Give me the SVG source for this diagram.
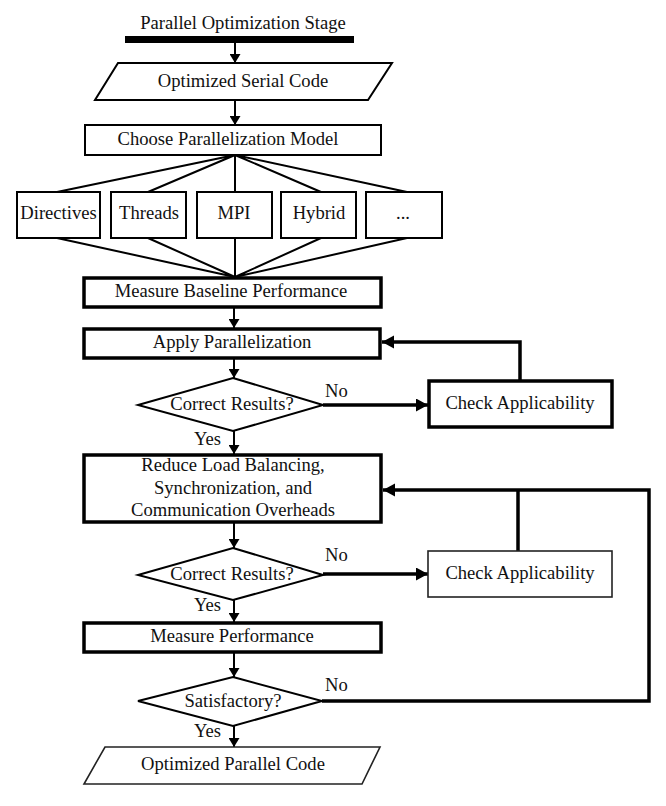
<svg xmlns="http://www.w3.org/2000/svg" width="666" height="806" viewBox="0 0 666 806">
  <style>
    text { font-family: "Liberation Serif", "Times New Roman", serif; font-size: 18.6px; fill: #111; }
    .c { text-anchor: middle; }
    .box { fill: #fff; stroke: #000; stroke-width: 2; }
    .bold { fill: #fff; stroke: #000; stroke-width: 3.5; }
    .thin { fill: #fff; stroke: #222; stroke-width: 1.6; }
    .ln { fill: none; stroke: #000; stroke-width: 2; }
    .thk { fill: none; stroke: #000; stroke-width: 3.5; }
  </style>
  <defs>
    <marker id="ah" markerUnits="userSpaceOnUse" markerWidth="10" markerHeight="11" refX="9" refY="5.5" orient="auto">
      <path d="M0,0 L9,5.5 L0,11 z" fill="#000"/>
    </marker>
    <marker id="ahb" markerUnits="userSpaceOnUse" markerWidth="13" markerHeight="14" refX="12" refY="6.5" orient="auto">
      <path d="M0,0 L12,6.5 L0,13 z" fill="#000"/>
    </marker>
  </defs>
  <rect width="666" height="806" fill="#fff"/>

  <!-- connectors -->
  <g id="connectors">
    <path class="ln" d="M235,43 V63" marker-end="url(#ah)"/>
    <path class="ln" d="M235,100 V125" marker-end="url(#ah)"/>
    <!-- fan out to the models -->
    <path class="ln" d="M235,155 L57,192 M235,155 L148,192 M235,155 V192 M235,155 L321,192 M235,155 L407,192"/>
    <!-- fan in to the baseline measurement -->
    <path class="ln" d="M57,238 L235,277 M148,238 L235,277 M235,238 V277 M321,238 L235,277 M407,238 L235,277"/>
    <path class="ln" d="M234,307 V328" marker-end="url(#ah)"/>
    <path class="ln" d="M234,358 V378" marker-end="url(#ah)"/>
    <path class="thk" d="M323,405 H428" marker-end="url(#ahb)"/>
    <path class="thk" d="M520,381 V342 H382" marker-end="url(#ahb)"/>
    <path class="ln" d="M234,431 V454" marker-end="url(#ah)"/>
    <path class="ln" d="M234,523 V548" marker-end="url(#ah)"/>
    <path class="thk" d="M323,574 H428" marker-end="url(#ahb)"/>
    <path class="thk" d="M518,551 V490"/>
    <path class="thk" d="M322,701 H649 V490 H383" marker-end="url(#ahb)"/>
    <path class="ln" d="M234,600 V622" marker-end="url(#ah)"/>
    <path class="ln" d="M234,653 V677" marker-end="url(#ah)"/>
    <path class="ln" d="M234,726 V747" marker-end="url(#ah)"/>
  </g>

  <g id="stage">
    <text class="c" x="243" y="29">Parallel Optimization Stage</text>
    <rect x="125" y="36" width="229" height="7" fill="#000"/>
  </g>

  <g id="serial-code">
    <polygon class="box" points="118,63 392,63 368,100 95,100"/>
    <text class="c" x="243" y="87">Optimized Serial Code</text>
  </g>

  <g id="choose-model">
    <rect class="box" x="85" y="125" width="296" height="30"/>
    <text class="c" x="228" y="145">Choose Parallelization Model</text>
  </g>

  <g id="directives">
    <rect class="box" x="17" y="192" width="83" height="46"/>
    <text class="c" x="58.5" y="219">Directives</text>
  </g>
  <g id="threads">
    <rect class="box" x="111" y="192" width="75" height="46"/>
    <text class="c" x="149" y="219">Threads</text>
  </g>
  <g id="mpi">
    <rect class="box" x="197" y="192" width="75" height="46"/>
    <text class="c" x="234" y="219">MPI</text>
  </g>
  <g id="hybrid">
    <rect class="box" x="281" y="192" width="75" height="46"/>
    <text class="c" x="319" y="219">Hybrid</text>
  </g>
  <g id="other">
    <rect class="box" x="366" y="192" width="76" height="46"/>
    <text class="c" x="403" y="219">...</text>
  </g>

  <g id="baseline">
    <rect class="bold" x="84" y="278" width="297" height="29"/>
    <text class="c" x="231" y="297">Measure Baseline Performance</text>
  </g>

  <g id="apply">
    <rect class="bold" x="84" y="329" width="296" height="29"/>
    <text class="c" x="232" y="348">Apply Parallelization</text>
  </g>

  <g id="correct-1">
    <polygon class="box" points="233,378 323,405 233,431 138,405"/>
    <text class="c" x="232" y="410">Correct Results?</text>
    <text x="325" y="397">No</text>
    <text x="194" y="445">Yes</text>
  </g>

  <g id="check-1">
    <rect class="bold" x="429" y="381" width="183" height="46"/>
    <text class="c" x="520" y="409">Check Applicability</text>
  </g>

  <g id="reduce">
    <rect class="bold" x="84" y="455" width="297" height="67"/>
    <text class="c" x="233" y="471">Reduce Load Balancing,</text>
    <text class="c" x="233" y="494">Synchronization, and</text>
    <text class="c" x="233" y="516">Communication Overheads</text>
  </g>

  <g id="correct-2">
    <polygon class="box" points="233,548 323,575 233,600 138,575"/>
    <text class="c" x="232" y="580">Correct Results?</text>
    <text x="325" y="561">No</text>
    <text x="194" y="611">Yes</text>
  </g>

  <g id="check-2">
    <rect class="thin" x="428" y="551" width="184" height="46"/>
    <text class="c" x="520" y="579">Check Applicability</text>
  </g>

  <g id="measure">
    <rect class="bold" x="84" y="623" width="297" height="29"/>
    <text class="c" x="232" y="642">Measure Performance</text>
  </g>

  <g id="satisfactory">
    <polygon class="box" points="233,677 322,701 233,726 138,701"/>
    <text class="c" x="233" y="707">Satisfactory?</text>
    <text x="325" y="691">No</text>
    <text x="194" y="737">Yes</text>
  </g>

  <g id="parallel-code">
    <polygon class="thin" points="105,747 380,747 362,784 84,784"/>
    <text class="c" x="233" y="770">Optimized Parallel Code</text>
  </g>
</svg>
